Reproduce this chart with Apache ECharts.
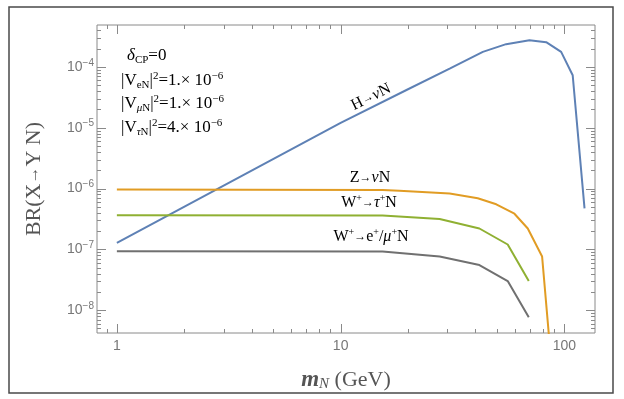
<!DOCTYPE html>
<html>
<head>
<meta charset="utf-8">
<script src="https://cdn.jsdelivr.net/npm/echarts@6/dist/echarts.min.js"></script>
<style>
  html, body { margin: 0; padding: 0; background: #fff; }
  #main { width: 624px; height: 399px; }
</style>
</head>
<body>
<div id="main"></div>
<script>
// values (m_N in GeV, branching ratio)
const higgsMass = [1, 10, 20, 30.7, 43.2, 54.9, 69.8, 82.9, 96.7, 108.9, 123];
const higgsBR = [1.28e-7, 1.2e-5, 4.3e-5, 9.4e-5, 1.77e-4, 2.37e-4, 2.76e-4, 2.56e-4, 1.77e-4, 7.3e-5, 4.7e-7];

const zMass = [1, 15.4, 18.3, 30.7, 41.0, 49.6, 59.8, 68.6, 79.5, 88];
const zBR = [9.6e-7, 9.5e-7, 9.2e-7, 8.3e-7, 6.9e-7, 5.5e-7, 3.85e-7, 2.2e-7, 7.6e-8, 1e-9];

const wTauMass = [1, 15.4, 27.7, 41.7, 55.8, 69.3];
const wTauBR = [3.65e-7, 3.6e-7, 3.16e-7, 2.2e-7, 1.2e-7, 3.0e-8];

const wLepMass = [1, 15.4, 27.7, 41.7, 55.8, 69.3];
const wLepBR = [9.3e-8, 9.2e-8, 7.6e-8, 5.5e-8, 3.0e-8, 7.6e-9];

// tick marks (raw values)
const xMajorTicks = [1, 10, 100];
const xMinorTicks = [0.9, 2, 3, 4, 5, 6, 7, 8, 9, 20, 30, 40, 50, 60, 70, 80, 90];
const yMajorTicks = [1e-8, 1e-7, 1e-6, 1e-5, 1e-4];
const yMinorSteps = [2, 3, 4, 5, 6, 7, 8, 9];

const xMin = 0.815, xMax = 137;
const yMin = 4.2e-9, yMax = 4.9e-4;

const yMinorTicks = [];
[-9, -8, -7, -6, -5, -4].forEach(e => yMinorSteps.forEach(s => {
    const v = +(s + 'e' + e);
    if (v > yMin && v < yMax) yMinorTicks.push(v);
}));

// value axes over log10 of the data
const lg = v => Math.log10(v);
const xLo = lg(xMin), xHi = lg(xMax), yLo = lg(yMin), yHi = lg(yMax);

const frameColor = '#8a8a8a';
const labelColor = '#777';
const serif = '"Liberation Serif", "DejaVu Serif", serif';
const sans = '"Liberation Sans", Arial, sans-serif';

const pairs = (xs, ys) => xs.map((x, i) => [lg(x), lg(ys[i])]);

// axis ticks would not draw, so they go in as a custom series:
// [x, y, length, 0 = tick on x axes / 1 = tick on y axes]
const tickRows = [].concat(
    xMajorTicks.map(v => [lg(v), yLo, 9, 0]),
    xMinorTicks.map(v => [lg(v), yLo, 4, 0]),
    yMajorTicks.map(v => [xLo, lg(v), 9, 1]),
    yMinorTicks.map(v => [xLo, lg(v), 4, 1])
);

function renderTick(params, api) {
    const len = api.value(2);
    const style = { stroke: frameColor, lineWidth: 1 };
    if (api.value(3) === 0) {
        const v = api.value(0);
        const a = api.coord([v, yLo]), b = api.coord([v, yHi]);
        const x = Math.round(a[0]) + 0.5;
        return {
            type: 'group',
            children: [
                { type: 'line', shape: { x1: x, y1: a[1], x2: x, y2: a[1] - len }, style: style },
                { type: 'line', shape: { x1: x, y1: b[1], x2: x, y2: b[1] + len }, style: style }
            ]
        };
    }
    const v = api.value(1);
    const a = api.coord([xLo, v]), b = api.coord([xHi, v]);
    const y = Math.round(a[1]) + 0.5;
    return {
        type: 'group',
        children: [
            { type: 'line', shape: { x1: a[0], y1: y, x2: a[0] + len, y2: y }, style: style },
            { type: 'line', shape: { x1: b[0], y1: y, x2: b[0] - len, y2: y }, style: style }
        ]
    };
}

const supRich = {
    b: { fontSize: 14, color: labelColor, fontFamily: sans, lineHeight: 18 },
    s: { fontSize: 10, color: labelColor, fontFamily: sans, verticalAlign: 'top', lineHeight: 10 }
};

const chart = echarts.init(document.getElementById('main'));

const annoRich = {
    t: { fontFamily: serif, fontSize: 17, color: '#111', lineHeight: 20 },
    i: { fontFamily: serif, fontSize: 17, fontStyle: 'italic', color: '#111', lineHeight: 20 },
    sub: { fontFamily: serif, fontSize: 11, color: '#111', verticalAlign: 'bottom', lineHeight: 12 },
    subi: { fontFamily: serif, fontSize: 11, fontStyle: 'italic', color: '#111', verticalAlign: 'bottom', lineHeight: 12 },
    sup: { fontFamily: serif, fontSize: 11, color: '#111', verticalAlign: 'top', lineHeight: 10 }
};

function richFor(color) {
    return {
        t: { fontFamily: serif, fontSize: 16, color: color, lineHeight: 20 },
        a: { fontFamily: serif, fontSize: 12, color: color, lineHeight: 20 },
        i: { fontFamily: serif, fontSize: 16, fontStyle: 'italic', color: color, lineHeight: 20 },
        sup: { fontFamily: serif, fontSize: 10, color: color, verticalAlign: 'top', lineHeight: 10 }
    };
}

function note(x, y, text, rich, rotation) {
    return {
        type: 'text',
        x: x, y: y,
        rotation: rotation || 0,
        silent: true,
        style: {
            text: text,
            rich: rich,
            font: '16px ' + serif,
            textAlign: rotation !== undefined ? 'center' : 'left',
            textVerticalAlign: 'middle'
        }
    };
}

const colors = { h: '#5e81b5', z: '#e19c24', wt: '#8fb032', wl: '#707070' };

chart.setOption({
    animation: false,
    backgroundColor: '#fff',
    grid: {
        left: 97, top: 25, right: 29, bottom: 66,
        show: true, borderColor: frameColor, borderWidth: 1, backgroundColor: 'transparent'
    },
    xAxis: {
        type: 'value',
        min: xLo,
        max: xHi,
        splitLine: { show: false },
        axisLine: { show: false },
        axisTick: { show: false },
        axisLabel: {
            show: true, margin: 6, color: labelColor, fontSize: 14, fontFamily: sans,
            customValues: xMajorTicks.map(lg),
            formatter: v => String(Math.round(Math.pow(10, v)))
        },
        name: '{m|m}{n|N} (GeV)',
        nameLocation: 'middle',
        nameGap: 36,
        nameTextStyle: {
            fontFamily: serif, fontSize: 22, color: '#555',
            rich: {
                m: { fontFamily: serif, fontSize: 23, fontStyle: 'italic', fontWeight: 'bold', color: '#555' },
                n: { fontFamily: serif, fontSize: 15, fontStyle: 'italic', color: '#555', verticalAlign: 'bottom', padding: [8, 0, 0, 0] }
            }
        }
    },
    yAxis: {
        type: 'value',
        min: yLo,
        max: yHi,
        splitLine: { show: false },
        axisLine: { show: false },
        axisTick: { show: false },
        axisLabel: {
            show: true, margin: 3, rich: supRich,
            customValues: yMajorTicks.map(lg),
            formatter: v => '{b|10}{s|\u2212' + Math.abs(Math.round(v)) + '}'
        },
        name: '{t|BR(X}{a|\u2192}{t|Y N)}',
        nameLocation: 'middle',
        nameGap: 52,
        nameTextStyle: {
            fontFamily: serif, fontSize: 22, color: '#555',
            rich: {
                t: { fontFamily: serif, fontSize: 22, color: '#555' },
                a: { fontFamily: serif, fontSize: 17, color: '#555' }
            }
        }
    },
    series: [
        { name: 'ticks', type: 'custom', data: tickRows, renderItem: renderTick, clip: false, silent: true, z: 5 },
        { name: 'H', type: 'line', data: pairs(higgsMass, higgsBR), showSymbol: false, lineStyle: { color: colors.h, width: 2 } },
        { name: 'Z', type: 'line', data: pairs(zMass, zBR), showSymbol: false, lineStyle: { color: colors.z, width: 2 } },
        { name: 'Wtau', type: 'line', data: pairs(wTauMass, wTauBR), showSymbol: false, lineStyle: { color: colors.wt, width: 2 } },
        { name: 'Wlep', type: 'line', data: pairs(wLepMass, wLepBR), showSymbol: false, lineStyle: { color: colors.wl, width: 2 } }
    ],
    graphic: [
        { type: 'rect', silent: true, shape: { x: 9, y: 7, width: 604, height: 386 }, style: { fill: 'none', stroke: '#4a4a4a', lineWidth: 1.5 } },
        note(127, 56, '{i|\u03b4}{sub|CP}{t|=0}', annoRich),
        note(121, 81, '{t||V}{sub|eN}{t||}{sup|2}{t|=1.\u00d7 10}{sup|\u22126}', annoRich),
        note(121, 104, '{t||V}{subi|\u03bc}{sub|N}{t||}{sup|2}{t|=1.\u00d7 10}{sup|\u22126}', annoRich),
        note(121, 128, '{t||V}{subi|\u03c4}{sub|N}{t||}{sup|2}{t|=4.\u00d7 10}{sup|\u22126}', annoRich),
        note(371, 97, '{t|H}{a|\u2192}{i|\u03bd}{t|N}', richFor(colors.h), 0.46),
        note(370, 178, '{t|Z}{a|\u2192}{i|\u03bd}{t|N}', richFor(colors.z), 0),
        note(369, 203, '{t|W}{sup|+}{a|\u2192}{i|\u03c4}{sup|+}{t|N}', richFor(colors.wt), 0),
        note(371, 237, '{t|W}{sup|+}{a|\u2192}{t|e}{sup|+}{t|/}{i|\u03bc}{sup|+}{t|N}', richFor(colors.wl), 0)
    ]
});
</script>
</body>
</html>
